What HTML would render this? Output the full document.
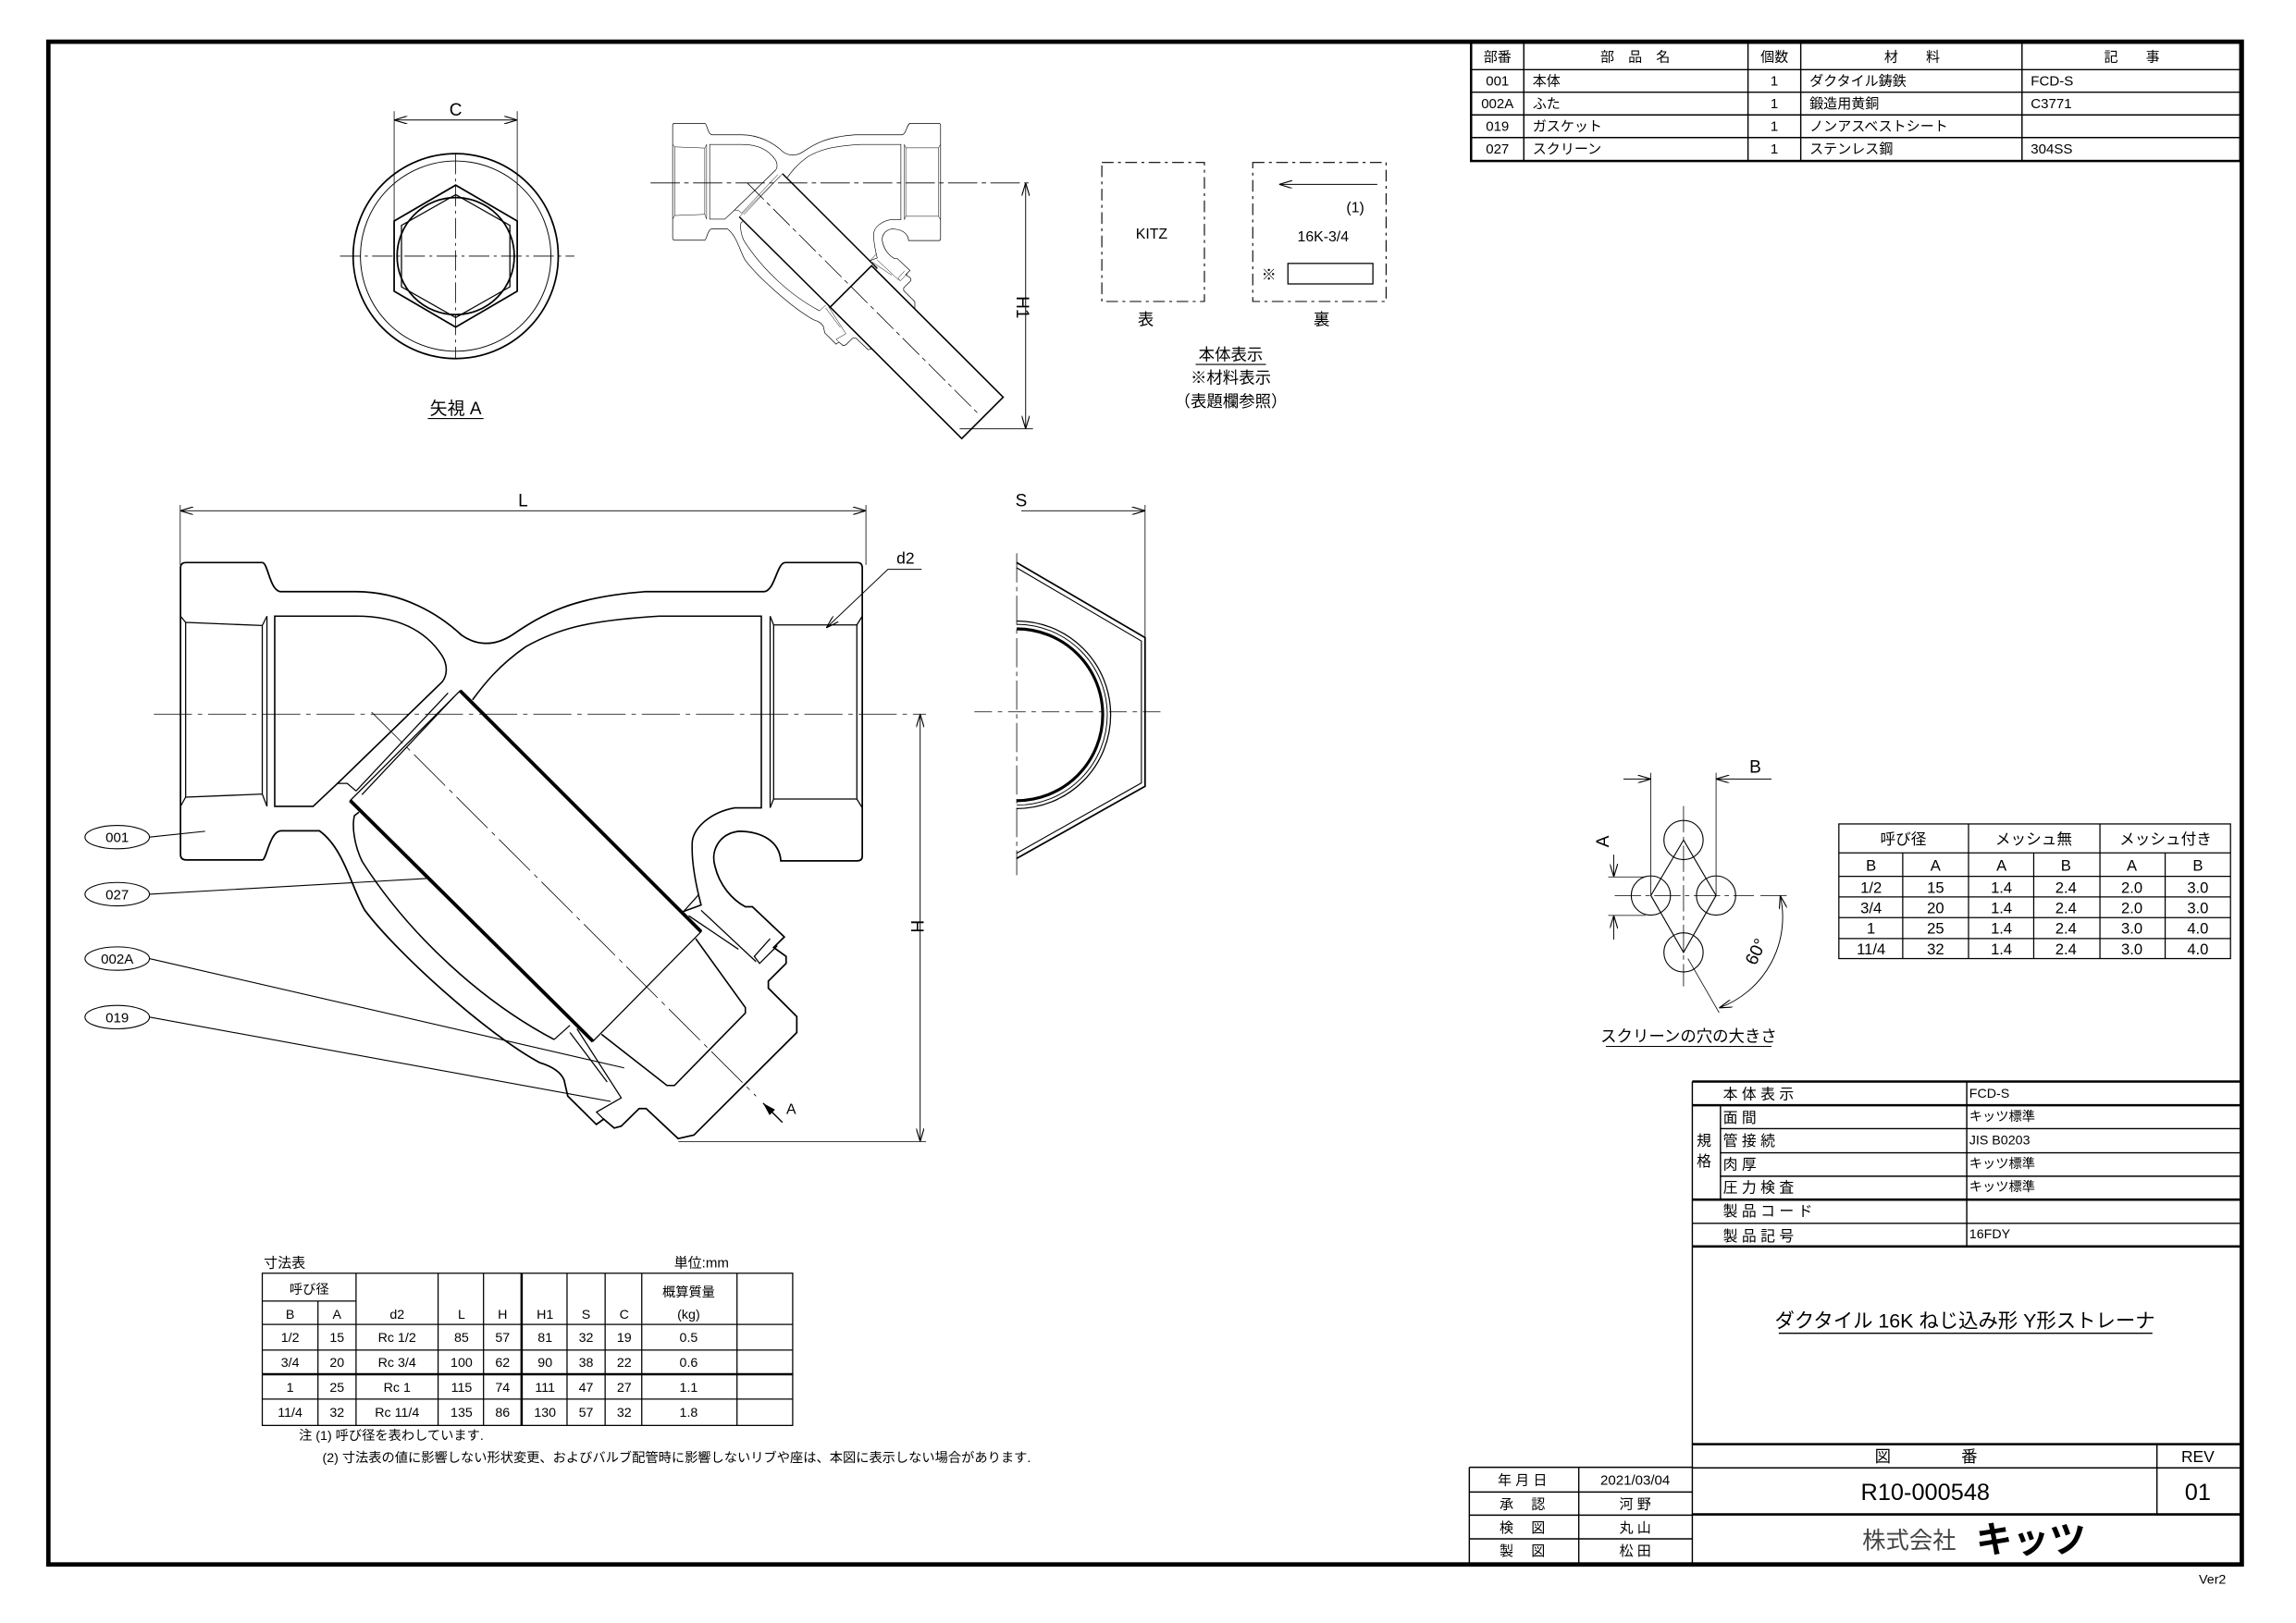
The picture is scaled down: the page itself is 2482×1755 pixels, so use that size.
<!DOCTYPE html>
<html><head><meta charset="utf-8"><style>
html,body{margin:0;padding:0;background:#fff;}
svg{display:block;}
text{font-family:"Liberation Sans","Noto Sans CJK JP",sans-serif;fill:#000;}
</style></head><body>
<svg width="2482" height="1755" viewBox="0 0 1567 1109" preserveAspectRatio="none" xmlns="http://www.w3.org/2000/svg">
<defs>
<marker id="ar" viewBox="0 0 10 6" refX="10" refY="3" markerWidth="9" markerHeight="5.4" markerUnits="userSpaceOnUse" orient="auto-start-reverse">
<path d="M0,0 L10,3 L0,6" fill="none" stroke="#000" stroke-width="0.8"/>
</marker>
<marker id="af" viewBox="0 0 10 6" refX="10" refY="3" markerWidth="9" markerHeight="5.4" markerUnits="userSpaceOnUse" orient="auto">
<path d="M0,0 L10,3 L0,6 Z" fill="#000"/>
</marker>
<g id="body" fill="none" stroke="#000">
<path stroke-width="1.1" d="M127,384.4 H179 C183,384.4 184,404.3 192,404.3 H243 C275,404.3 300,420 315,434 C325,441 337,442 349.8,433.7 C370,420 390,408 440,404.3 H521 C529,404.3 530,384.4 536,384.4 H585 Q588.5,384.4 588.5,388 V585 Q588.5,588.2 585,588.2 H532.9 C532,575 520,568 504,568 C490,570 485,582 488,592 C491,605 500,615 508.7,619.6 L513.5,619.6 L535.3,640.2 L528,647.4 L536.5,653.5 V658.3 L524.4,670.4 V675.2 L543.8,694.6 V705.5 L473.6,775.6 L462.8,778 L441,757.5 H436.2 L424,769.5 L419.2,770.8 L412,764.7 L407,768.3 L387.5,749 L385,738 C383,733 378,729 368.1,726 C330,705 270,650 249,622 C240,607 235,580 218,567.7 H192 C184,567.7 182,587.6 179,587.6 H127 Q123.2,587.6 123.2,584 V388 Q123.2,384.4 127,384.4 Z"/>
<path stroke-width="1" d="M187.5,421 H243 C270,421 290,430 301.7,448 C306,455 305,462 301.7,466 L230.4,535.3 L213.7,551 H187.5 Z"/>
<path stroke-width="1" d="M322.5,478.2 C330,468 340,455 358.8,441.9 C380,430 400,424 450,421 H519.6 V552 H501.4 C485,555 472,566 472.4,577.3 C472,590 475,605 478.5,618.4 L466,623"/>
<path stroke-width="1" d="M378.2,710.3 C330,685 280,640 247.2,588.7 C242,578 240,565 241.9,557.3 L245,555"/>
<path stroke-width="0.8" d="M123.2,421 L126.7,425.3 L179,427.4 L182.2,421 M123.2,551 L126.7,544.7 L179,542.6 L182.2,551 M126.7,425.3 V544.7 M179,427.4 V542.6 M182.2,421 V551"/>
<path stroke-width="0.8" d="M588.5,421 L584.8,427 L528,427 L525.6,421 M588.5,552 L584.8,546 L528,546 L525.6,552 M584.8,427 V546 M528,427 V546 M525.6,421 V552"/>
<path stroke-width="0.8" d="M305.8,473.5 L243,540.5 M301.7,466 L230.4,535.3 L237,535.3 L243,540.5 M310,476 L247,543"/>
<path stroke-width="0.8" d="M466.1,623.3 L477,611.2 M470,625.7 L503.9,648.6 M478.5,622 L516,657.1 M525.6,641.4 L514.8,653.5 L518.4,658.3 L530.5,646.2"/>
<path stroke-width="0.8" d="M389,705.5 L414.4,739.3 M393.8,703 L424,750.2 L407.1,759.9 L412,764.7 M378.2,710.3 L389,700.6"/>
<path stroke-width="1" d="M474.8,641.4 L508.7,688.5 V692.2 L460.3,741.7 H455.2 L410.5,706.7"/>
<polygon stroke-width="0.8" points="314,472 478.5,636.6 404.7,711.5 239,547"/>
<path stroke-width="2.4" d="M314,472 L478.5,636.6 M239,547 L404.7,711.5"/>
</g>
</defs>

<!-- frame -->
<rect x="33" y="28.5" width="1497" height="1040.5" fill="none" stroke="#000" stroke-width="3"/>
<text x="1510" y="1082" font-size="9" text-anchor="middle">Ver2</text>

<!-- parts table -->
<g fill="none" stroke="#000" stroke-width="0.9">
<rect x="1004" y="29" width="525" height="81" stroke-width="1.6"/>
<path d="M1004,47.6 H1529 M1004,63 H1529 M1004,78.5 H1529 M1004,94 H1529 M1040,29 V110 M1193,29 V110 M1229,29 V110 M1380,29 V110"/>
</g>
<g font-size="9.5">
<text x="1022" y="42" text-anchor="middle">部番</text>
<text x="1116" y="42" text-anchor="middle">部　品　名</text>
<text x="1211" y="42" text-anchor="middle">個数</text>
<text x="1305" y="42" text-anchor="middle">材　　料</text>
<text x="1455" y="42" text-anchor="middle">記　　事</text>
<text x="1022" y="58.5" text-anchor="middle">001</text><text x="1046" y="58.5">本体</text><text x="1211" y="58.5" text-anchor="middle">1</text><text x="1235" y="58.5">ダクタイル鋳鉄</text><text x="1386" y="58.5">FCD-S</text>
<text x="1022" y="74" text-anchor="middle">002A</text><text x="1046" y="74">ふた</text><text x="1211" y="74" text-anchor="middle">1</text><text x="1235" y="74">鍛造用黄銅</text><text x="1386" y="74">C3771</text>
<text x="1022" y="89.5" text-anchor="middle">019</text><text x="1046" y="89.5">ガスケット</text><text x="1211" y="89.5" text-anchor="middle">1</text><text x="1235" y="89.5">ノンアスベストシート</text>
<text x="1022" y="105" text-anchor="middle">027</text><text x="1046" y="105">スクリーン</text><text x="1211" y="105" text-anchor="middle">1</text><text x="1235" y="105">ステンレス鋼</text><text x="1386" y="105">304SS</text>
</g>

<!-- view A -->
<g fill="none" stroke="#000">
<circle cx="311" cy="175" r="70" stroke-width="1.1"/>
<circle cx="311" cy="175" r="65" stroke-width="0.6"/>
<polygon points="311,126.5 353,151 353,199 311,223.5 269,199 269,151" stroke-width="1.1"/>
<polygon points="311,133 348,154 348,196 311,217 274,196 274,154" stroke-width="0.8"/>
<circle cx="311" cy="175" r="40" stroke-width="1.1"/>
<path d="M232,175 H392 M311,105 V245" stroke-width="0.5" stroke-dasharray="14,3,2,3"/>
<path d="M269,76 V170 M353,76 V170" stroke-width="0.5"/>
<path d="M269,82 H353" stroke-width="0.6" marker-start="url(#ar)" marker-end="url(#ar)"/>
</g>
<text x="311" y="79" font-size="12" text-anchor="middle">C</text>
<text x="311" y="283" font-size="12" text-anchor="middle">矢視 A</text>
<path d="M292,286 H330" stroke="#000" stroke-width="0.7"/>

<!-- small Y view -->
<use href="#body" transform="translate(459,125) scale(0.393) translate(-123,-488)"/>
<g transform="translate(510,125) rotate(45)" fill="#fff" stroke="#000" stroke-width="1">
<rect x="100" y="-20" width="127" height="40"/>
</g>
<path d="M444,125 H705" stroke="#000" stroke-width="0.5" stroke-dasharray="20,3,3,3"/>
<path d="M510,125 L669,284" stroke="#000" stroke-width="0.5" stroke-dasharray="16,3,3,3"/>
<path d="M655,293 H705" stroke="#000" stroke-width="0.5"/>
<path d="M700,125 V293" stroke="#000" stroke-width="0.6" marker-start="url(#ar)" marker-end="url(#ar)"/>
<text x="0" y="0" font-size="12" text-anchor="middle" transform="translate(694,210) rotate(90)">H1</text>

<!-- marking boxes -->
<g fill="none" stroke="#000" stroke-width="0.7" stroke-dasharray="8,3,2,3">
<rect x="752" y="111" width="70" height="95"/>
<rect x="855" y="111" width="91" height="95"/>
</g>
<text x="786" y="163" font-size="10" text-anchor="middle">KITZ</text>
<path d="M940,126 H873" stroke="#000" stroke-width="0.6" marker-end="url(#ar)"/>
<text x="925" y="145" font-size="10" text-anchor="middle">(1)</text>
<text x="903" y="165" font-size="10" text-anchor="middle">16K-3/4</text>
<text x="866" y="191" font-size="10" text-anchor="middle">※</text>
<rect x="879" y="180" width="58" height="14" fill="none" stroke="#000" stroke-width="0.8"/>
<text x="782" y="222" font-size="11" text-anchor="middle">表</text>
<text x="902" y="222" font-size="11" text-anchor="middle">裏</text>
<text x="840" y="246" font-size="11" text-anchor="middle">本体表示</text>
<path d="M816,249 H864" stroke="#000" stroke-width="0.7"/>
<text x="840" y="262" font-size="11" text-anchor="middle">※材料表示</text>
<text x="840" y="278" font-size="11" text-anchor="middle">（表題欄参照）</text>

<!-- main view -->
<use href="#body"/>
<path d="M123,345 V386 M591,345 V386" stroke="#000" stroke-width="0.5"/>
<path d="M123,349 H591" stroke="#000" stroke-width="0.6" marker-start="url(#ar)" marker-end="url(#ar)"/>
<text x="357" y="346" font-size="12" text-anchor="middle">L</text>
<path d="M105,488 H632" stroke="#000" stroke-width="0.5" stroke-dasharray="26,4,3,4"/>
<path d="M253.6,486.6 L516,749" stroke="#000" stroke-width="0.5" stroke-dasharray="30,4,3,4"/>
<path d="M463,780 H632" stroke="#000" stroke-width="0.5"/>
<path d="M628,488 V780" stroke="#000" stroke-width="0.6" marker-start="url(#ar)" marker-end="url(#ar)"/>
<text x="0" y="0" font-size="12" text-anchor="middle" transform="translate(622,633) rotate(90)">H</text>
<path d="M534,767 L520.8,753.8" stroke="#000" stroke-width="0.9" marker-end="url(#af)"/>
<text x="540" y="761" font-size="10" text-anchor="middle">A</text>
<text x="618" y="385" font-size="11" text-anchor="middle">d2</text>
<path d="M629,389 H606 L564,429" fill="none" stroke="#000" stroke-width="0.6" marker-end="url(#ar)"/>
<g fill="none" stroke="#000" stroke-width="0.7">
<ellipse cx="80" cy="572" rx="22" ry="8"/>
<ellipse cx="80" cy="611" rx="22" ry="8"/>
<ellipse cx="80" cy="655" rx="22" ry="8"/>
<ellipse cx="80" cy="695" rx="22" ry="8"/>
<path d="M102,572 L140,568 M102,611 L291,600.3 M102,655 L426,729.7 M102,695 L416.8,752.6"/>
</g>
<g font-size="9.5" text-anchor="middle">
<text x="80" y="575.5">001</text><text x="80" y="614.5">027</text><text x="80" y="658.5">002A</text><text x="80" y="698.5">019</text>
</g>

<!-- right side view -->
<g fill="none" stroke="#000">
<path d="M693.9,384.4 L781.5,435.7 V537.3 L693.9,586.6" stroke-width="1.1"/>
<path d="M693.9,388 L779,438 V535 L693.9,583" stroke-width="0.7"/>
<path d="M693.9,424.3 A64.1,64.1 0 0 1 693.9,552.5" stroke-width="0.8"/>
<path d="M693.9,426.6 A61.8,61.8 0 0 1 693.9,550.2" stroke-width="0.6"/>
<path d="M693.9,429.7 A58.7,58.7 0 0 1 693.9,547.1" stroke-width="2"/>
<path d="M693.9,378 V598" stroke-width="0.5" stroke-dasharray="20,3,3,3"/>
<path d="M665,486.4 H795" stroke-width="0.5" stroke-dasharray="12,4,3,4"/>
<path d="M781.5,345 V435" stroke-width="0.5"/>
<path d="M697,349 H781.5" stroke-width="0.6" marker-end="url(#ar)"/>
</g>
<text x="697" y="346" font-size="12" text-anchor="middle">S</text>

<!-- screen hole diagram -->
<g fill="none" stroke="#000" stroke-width="0.7">
<ellipse cx="1149" cy="574" rx="13.4" ry="13.4"/>
<ellipse cx="1126.7" cy="611.9" rx="13.4" ry="13.4"/>
<ellipse cx="1171.2" cy="611.9" rx="13.4" ry="13.4"/>
<ellipse cx="1149" cy="650.8" rx="13.4" ry="13.4"/>
<path d="M1149,574 L1126.7,611.9 L1149,650.8 L1171.2,611.9 Z"/>
<path d="M1149,550.8 V674 M1102,611.9 H1197 M1201.5,611.9 H1219.4" stroke-width="0.5" stroke-dasharray="18,3,3,3"/>
<path d="M1126.7,528 V612 M1171.2,528 V612" stroke-width="0.5"/>
<path d="M1108,532.3 H1126.7" marker-end="url(#ar)" stroke-width="0.6"/>
<path d="M1209,532.3 H1171.2" marker-end="url(#ar)" stroke-width="0.6"/>
<path d="M1097.6,599.2 H1123 M1097.6,625.5 H1123" stroke-width="0.5"/>
<path d="M1101.4,584 V599.2" marker-end="url(#ar)" stroke-width="0.6"/>
<path d="M1101.4,642 V625.5" marker-end="url(#ar)" stroke-width="0.6"/>
<path d="M1152,655 L1173.3,692" stroke-width="0.5"/>
<path d="M1215,612 A66,66 0 0 1 1173.3,688.7" stroke-width="0.6" marker-start="url(#ar)" marker-end="url(#ar)"/>
</g>
<text x="1198" y="528" font-size="12" text-anchor="middle">B</text>
<text x="0" y="0" font-size="12" text-anchor="middle" transform="translate(1098,575) rotate(-90)">A</text>
<text x="0" y="0" font-size="12" text-anchor="middle" transform="translate(1202,652) rotate(-65)">60°</text>
<text x="1152.5" y="712" font-size="11" text-anchor="middle">スクリーンの穴の大きさ</text>
<path d="M1096,715 H1209" stroke="#000" stroke-width="0.7"/>

<!-- mesh table -->
<g fill="none" stroke="#000" stroke-width="0.8">
<rect x="1255" y="563" width="267.3" height="92"/>
<path d="M1255,582.8 H1522.3 M1255,598.8 H1522.3 M1255,612.9 H1522.3 M1255,627 H1522.3 M1255,641.3 H1522.3 M1343.5,563 V655 M1433.2,563 V655 M1298.6,582.8 V655 M1388,582.8 V655 M1477.7,582.8 V655"/>
</g>
<g font-size="10.5" text-anchor="middle">
<text x="1299" y="577">呼び径</text><text x="1388" y="577">メッシュ無</text><text x="1478" y="577">メッシュ付き</text>
<text x="1277" y="595">B</text><text x="1321" y="595">A</text><text x="1366" y="595">A</text><text x="1410" y="595">B</text><text x="1455" y="595">A</text><text x="1500" y="595">B</text>
<text x="1277" y="610">1/2</text><text x="1321" y="610">15</text><text x="1366" y="610">1.4</text><text x="1410" y="610">2.4</text><text x="1455" y="610">2.0</text><text x="1500" y="610">3.0</text>
<text x="1277" y="624">3/4</text><text x="1321" y="624">20</text><text x="1366" y="624">1.4</text><text x="1410" y="624">2.4</text><text x="1455" y="624">2.0</text><text x="1500" y="624">3.0</text>
<text x="1277" y="638">1</text><text x="1321" y="638">25</text><text x="1366" y="638">1.4</text><text x="1410" y="638">2.4</text><text x="1455" y="638">3.0</text><text x="1500" y="638">4.0</text>
<text x="1277" y="652">11/4</text><text x="1321" y="652">32</text><text x="1366" y="652">1.4</text><text x="1410" y="652">2.4</text><text x="1455" y="652">3.0</text><text x="1500" y="652">4.0</text>
</g>

<!-- dimension table -->
<text x="180" y="866" font-size="9.5">寸法表</text>
<text x="460" y="866" font-size="9.5">単位:mm</text>
<g fill="none" stroke="#000" stroke-width="0.8">
<rect x="179" y="870" width="362" height="104"/>
<path d="M179,889 H243 M179,905 H541 M179,922.5 H541 M179,956 H541 M217,889 V974 M243,870 V974 M299,870 V974 M330,870 V974 M387,870 V974 M413,870 V974 M438,870 V974 M503,870 V974"/>
<path d="M179,939 H541 M356,870 V974" stroke-width="1.6"/>
</g>
<g font-size="9" text-anchor="middle">
<text x="211" y="884">呼び径</text>
<text x="198" y="901">B</text><text x="230" y="901">A</text><text x="271" y="901">d2</text><text x="315" y="901">L</text><text x="343" y="901">H</text><text x="372" y="901">H1</text><text x="400" y="901">S</text><text x="426" y="901">C</text>
<text x="470" y="886">概算質量</text><text x="470" y="901">(kg)</text>
<text x="198" y="917">1/2</text><text x="230" y="917">15</text><text x="271" y="917">Rc 1/2</text><text x="315" y="917">85</text><text x="343" y="917">57</text><text x="372" y="917">81</text><text x="400" y="917">32</text><text x="426" y="917">19</text><text x="470" y="917">0.5</text>
<text x="198" y="934">3/4</text><text x="230" y="934">20</text><text x="271" y="934">Rc 3/4</text><text x="315" y="934">100</text><text x="343" y="934">62</text><text x="372" y="934">90</text><text x="400" y="934">38</text><text x="426" y="934">22</text><text x="470" y="934">0.6</text>
<text x="198" y="951">1</text><text x="230" y="951">25</text><text x="271" y="951">Rc 1</text><text x="315" y="951">115</text><text x="343" y="951">74</text><text x="372" y="951">111</text><text x="400" y="951">47</text><text x="426" y="951">27</text><text x="470" y="951">1.1</text>
<text x="198" y="968">11/4</text><text x="230" y="968">32</text><text x="271" y="968">Rc 11/4</text><text x="315" y="968">135</text><text x="343" y="968">86</text><text x="372" y="968">130</text><text x="400" y="968">57</text><text x="426" y="968">32</text><text x="470" y="968">1.8</text>
</g>
<text x="204" y="984" font-size="9">注 (1) 呼び径を表わしています.</text>
<text x="220" y="999" font-size="9">(2) 寸法表の値に影響しない形状変更、およびバルブ配管時に影響しないリブや座は、本図に表示しない場合があります.</text>

<!-- title block -->
<g fill="none" stroke="#000" stroke-width="0.9">
<path d="M1155,739 H1529 M1155,755.2 H1529 M1174.2,771.2 H1529 M1174.2,787.7 H1529 M1174.2,803.7 H1529 M1155,819.7 H1529 M1155,835.9 H1529 M1155,851.7 H1529 M1155,739 V1069 M1174.2,755.2 V819.7 M1342.3,739 V851.7" />
<path d="M1155,739 H1529 M1155,755.2 H1529 M1155,819.7 H1529 M1155,851.7 H1529 M1155,986.8 H1529 M1155,1034.8 H1529" stroke-width="1.6"/>
<path d="M1155,1003 H1529 M1472.1,986.8 V1034.8"/>
<path d="M1002.8,1002.6 H1155 M1002.8,1019.5 H1155 M1002.8,1035.3 H1155 M1002.8,1051.5 H1155 M1002.8,1002.6 V1069 M1077.5,1002.6 V1069"/>
</g>
<g font-size="10">
<text x="1176" y="751">本 体 表 示</text>
<text x="1176" y="767">面 間</text>
<text x="1176" y="783">管 接 続</text>
<text x="1176" y="799">肉 厚</text>
<text x="1176" y="815">圧 力 検 査</text>
<text x="1176" y="831">製 品 コ ー ド</text>
<text x="1176" y="848">製 品 記 号</text>
<text x="1158" y="783">規</text><text x="1158" y="797">格</text>
</g>
<g font-size="9">
<text x="1344" y="750">FCD-S</text>
<text x="1344" y="766">キッツ標準</text>
<text x="1344" y="782">JIS  B0203</text>
<text x="1344" y="798">キッツ標準</text>
<text x="1344" y="814">キッツ標準</text>
<text x="1344" y="846">16FDY</text>
</g>
<text x="1341" y="907" font-size="13.5" text-anchor="middle">ダクタイル 16K ねじ込み形 Y形ストレーナ</text>
<path d="M1214,911 H1469" stroke="#000" stroke-width="0.9"/>
<text x="1285" y="999" font-size="11" text-anchor="middle">図</text>
<text x="1344" y="999" font-size="11" text-anchor="middle">番</text>
<text x="1500" y="999" font-size="11" text-anchor="middle">REV</text>
<text x="1314" y="1025" font-size="16" text-anchor="middle">R10-000548</text>
<text x="1500" y="1025" font-size="16" text-anchor="middle">01</text>
<text x="1303" y="1058" font-size="16" text-anchor="middle" style="fill:#444">株式会社</text>
<text x="1386" y="1061" font-size="25" font-weight="bold" text-anchor="middle">キッツ</text>
<g font-size="9.5" text-anchor="middle">
<text x="1039" y="1014.5">年 月 日</text><text x="1116" y="1014.5">2021/03/04</text>
<text x="1039" y="1031">承　 認</text><text x="1116" y="1031">河 野</text>
<text x="1039" y="1047">検　 図</text><text x="1116" y="1047">丸 山</text>
<text x="1039" y="1063">製　 図</text><text x="1116" y="1063">松 田</text>
</g>
</svg>
</body></html>
